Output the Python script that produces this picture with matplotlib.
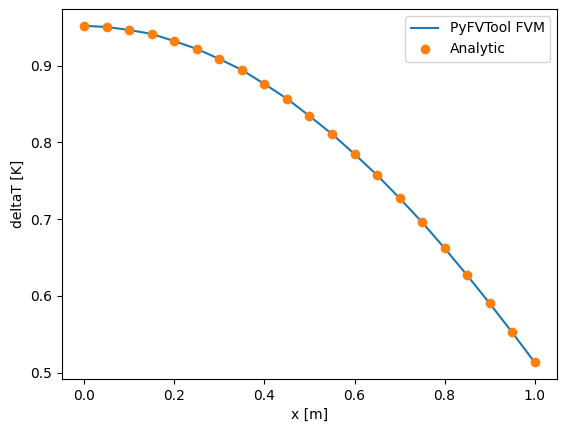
import matplotlib
matplotlib.use("Agg")
import matplotlib.pyplot as plt

x = [0.0, 0.05, 0.1, 0.15, 0.2, 0.25, 0.3, 0.35, 0.4, 0.45, 0.5,
     0.55, 0.6, 0.65, 0.7, 0.75, 0.8, 0.85, 0.9, 0.95, 1.0]
fvm = [0.9520, 0.9504, 0.9465, 0.9413, 0.9320, 0.9218, 0.9087, 0.8944, 0.8761, 0.8570, 0.8344,
       0.8110, 0.7849, 0.7575, 0.7275, 0.6962, 0.6623, 0.6271, 0.5906, 0.5528, 0.5137]
analytic = list(fvm)

fig = plt.figure(figsize=(5.67, 4.32), dpi=100)
ax = fig.add_axes([0.1093, 0.1227, 0.8731, 0.8565])
ax.plot(x, fvm, label="PyFVTool FVM")
ax.plot(x, analytic, "o", label="Analytic")
ax.set_xlabel("x [m]")
ax.set_ylabel("deltaT [K]")
ax.legend()
fig.savefig("out.png", dpi=100)
